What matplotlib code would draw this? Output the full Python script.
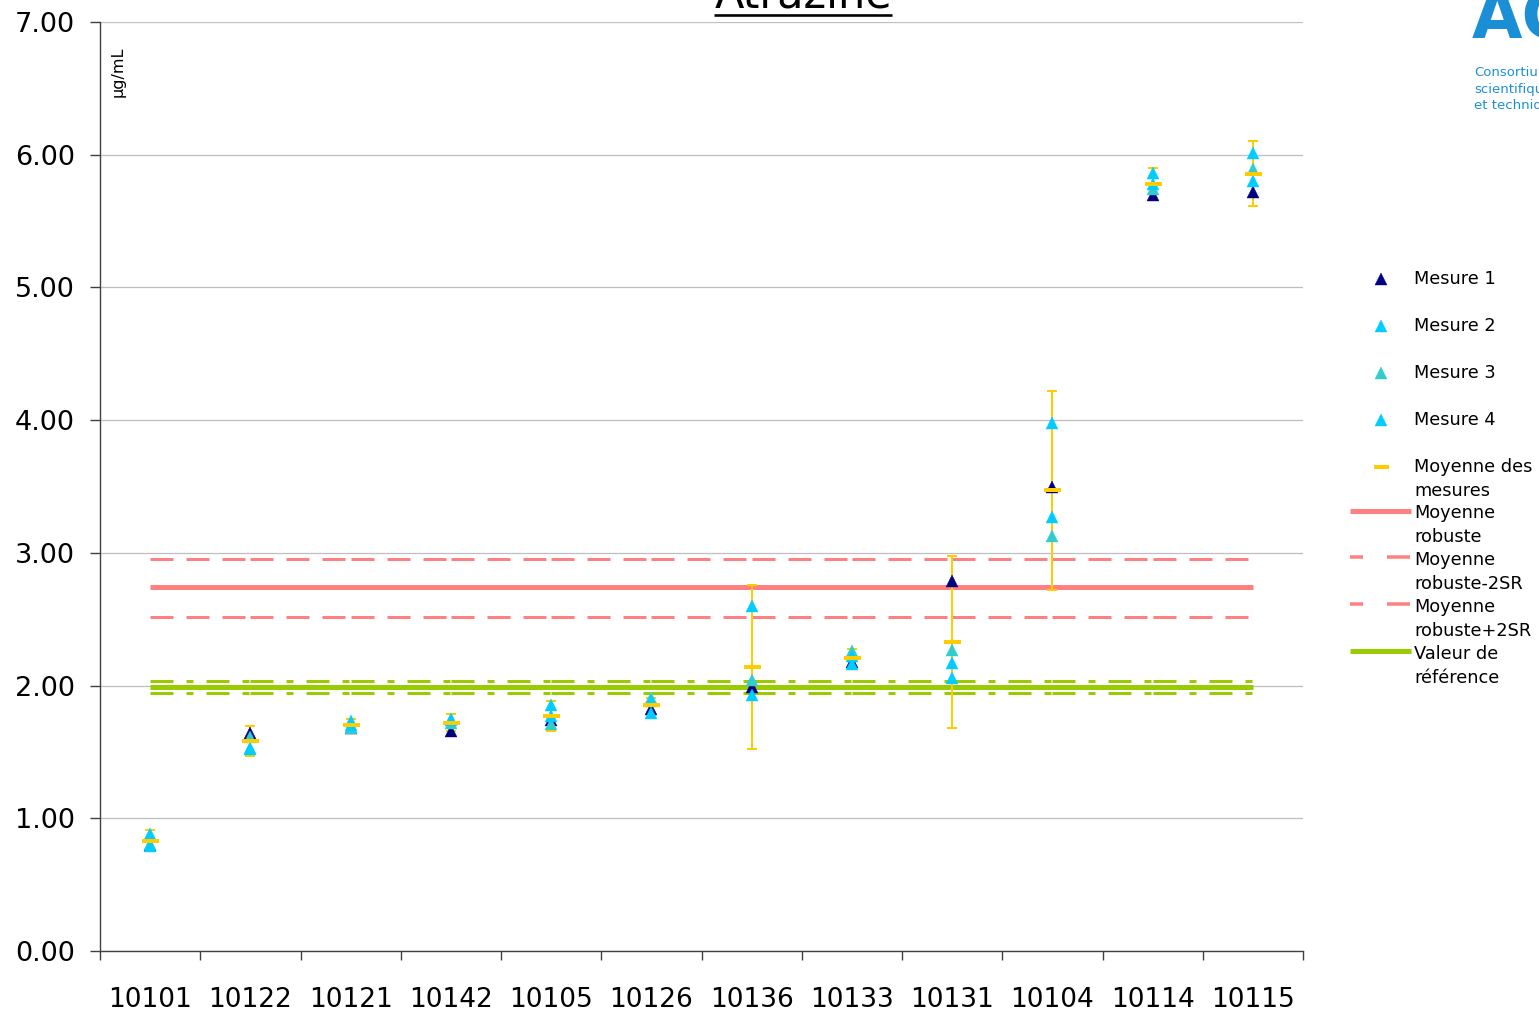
import numpy as np
import matplotlib
matplotlib.use("Agg")
import matplotlib.pyplot as plt
from matplotlib.lines import Line2D

plt.rcParams['font.family'] = ['DejaVu Sans']
plt.rcParams['lines.scale_dashes'] = False

# ---------------- data ----------------
categories = ['10101', '10122', '10121', '10142', '10105', '10126',
              '10136', '10133', '10131', '10104', '10114', '10115']
mesure1 = [0.80, 1.64, 1.68, 1.66, 1.74, 1.82, 1.99, 2.18, 2.79, 3.50, 5.70, 5.72]
mesure2 = [0.88, 1.52, 1.73, 1.75, 1.85, 1.79, 2.60, 2.16, 2.17, 3.98, 5.86, 6.01]
mesure3 = [0.81, 1.61, 1.68, 1.72, 1.71, 1.91, 2.04, 2.26, 2.27, 3.13, 5.74, 5.89]
mesure4 = [0.79, 1.53, 1.70, 1.74, 1.77, 1.88, 1.93, 2.22, 2.06, 3.27, 5.78, 5.80]
moyenne = [0.83, 1.58, 1.70, 1.72, 1.77, 1.85, 2.14, 2.21, 2.33, 3.47, 5.78, 5.855]
erreur = [0.078, 0.112, 0.05, 0.063, 0.113, 0.06, 0.62, 0.066, 0.647, 0.748, 0.12, 0.245]

moyenne_robuste = 2.74
robuste_moins_2sr = 2.52
robuste_plus_2sr = 2.95
valeur_reference = 1.99
reference_moins_u = 1.945
reference_plus_u = 2.035

yticks = [0, 1, 2, 3, 4, 5, 6, 7]

legend_labels = ['Mesure 1', 'Mesure 2', 'Mesure 3', 'Mesure 4',
                 'Moyenne des\nmesures', 'Moyenne\nrobuste', 'Moyenne\nrobuste-2SR',
                 'Moyenne\nrobuste+2SR', 'Valeur de\nréférence']

# ---------------- style ----------------
C_M1 = '#000080'
C_M2 = '#00CCFF'
C_M3 = '#33CCCC'
C_M4 = '#00CCFF'
C_MEAN = '#FFCC00'
C_RED = '#FF8080'
C_GREEN = '#99CC00'
PX = 72 / 100.0  # points per pixel

W, H = 1539, 1016
fig = plt.figure(figsize=(W / 100, H / 100), dpi=100)
ax = fig.add_axes([100 / W, 65 / H, 1203 / W, 929 / H])

n = len(categories)
x = np.arange(n) + 0.5

ax.set_xlim(0, n)
ax.set_ylim(0, 7)

# horizontal reference lines, drawn category segment by category segment
def seg_line(val, color, lw, dashes=None):
    for i in range(n - 1):
        kw = dict(color=color, lw=lw, zorder=2, solid_capstyle='butt')
        if dashes is not None:
            kw['dashes'] = dashes
            kw['dash_capstyle'] = 'butt'
        ax.plot([x[i], x[i + 1]], [val, val], **kw)

red_dash = [23 * PX, 13 * PX]
green_dd = [23 * PX, 13 * PX, 7 * PX, 13 * PX]
seg_line(robuste_moins_2sr, C_RED, 3 * PX, red_dash)
seg_line(robuste_plus_2sr, C_RED, 3 * PX, red_dash)
seg_line(reference_moins_u, C_GREEN, 3 * PX, green_dd)
seg_line(reference_plus_u, C_GREEN, 3 * PX, green_dd)
ax.plot(x, [moyenne_robuste] * n, color=C_RED, lw=5 * PX, zorder=2, solid_capstyle='butt')
ax.plot(x, [valeur_reference] * n, color=C_GREEN, lw=5 * PX, zorder=2, solid_capstyle='butt')

# error bars
ax.errorbar(x, moyenne, yerr=erreur, fmt='none', ecolor=C_MEAN, elinewidth=2 * PX,
            capsize=5 * PX, capthick=2 * PX, zorder=3)

ms = 8.8
for vals, col in [(mesure1, C_M1), (mesure2, C_M2), (mesure3, C_M3), (mesure4, C_M4)]:
    ax.plot(x, vals, ls='none', marker='^', ms=ms, color=col, mec=col, mew=0.3, zorder=4)

ax.plot(x, moyenne, ls='none', marker='_', ms=17 * PX, mew=4 * PX, color=C_MEAN, zorder=5)

# axes styling
for s in ['top', 'right']:
    ax.spines[s].set_visible(False)
for s in ['left', 'bottom']:
    ax.spines[s].set_color('#404040')
    ax.spines[s].set_linewidth(1.0)

ax.set_yticks(yticks)
ax.set_yticklabels([f'{v:.2f}' for v in yticks])
ax.yaxis.grid(True, color='#BFBFBF', lw=0.9)
ax.set_axisbelow(True)
ax.tick_params(axis='y', length=10 * PX, width=1.0, color='#404040', pad=15 * PX,
               labelsize=19.5, labelcolor='black')

ax.set_xticks(np.arange(n + 1))
ax.set_xticklabels([''] * (n + 1))
ax.set_xticks(x, minor=True)
ax.set_xticklabels(categories, minor=True)
ax.tick_params(axis='x', which='major', length=9 * PX, width=1.0, color='#404040')
ax.tick_params(axis='x', which='minor', length=0, pad=36 * PX, labelsize=19)

# unit label
fig.text(118 / W, 1 - 72 / H, 'µg/mL', rotation=90, ha='center', va='center', fontsize=11.5)

# title with underline
title = fig.text(803 / W, 1 - 7.5 / H, 'Atrazine', ha='center', va='baseline', fontsize=31)
fig.canvas.draw()
bb = title.get_window_extent()
fig.add_artist(Line2D([bb.x0 / W, bb.x1 / W], [1 - 14.5 / H, 1 - 14.5 / H],
                      transform=fig.transFigure, color='black', lw=2.6 * PX,
                      solid_capstyle='butt'))

# logo (cut at the figure edge)
LOGO = '#1B8FD6'
fig.text(1472 / W, 1 - 38 / H, 'AC', ha='left', va='baseline', fontsize=47,
         fontweight='bold', color=LOGO)
for i, t in enumerate(['Consortium', 'scientifique', 'et technique']):
    fig.text(1474 / W, 1 - (73 + 16 * i) / H, t, ha='left', va='center',
             fontsize=9.5, color=LOGO)

# manual legend
def fy(py):
    return 1 - py / H

row0, dy = 279, 46.9
mx = 1381 / W
lx0, lx1 = 1350 / W, 1411 / W
handles = [
    dict(kind='m', color=C_M1), dict(kind='m', color=C_M2), dict(kind='m', color=C_M3),
    dict(kind='m', color=C_M4), dict(kind='mean'),
    dict(kind='l', color=C_RED, lw=5 * PX, dashes=None),
    dict(kind='l', color=C_RED, lw=3.5 * PX, dashes=(10 * PX, (23 * PX, 24 * PX))),
    dict(kind='l', color=C_RED, lw=3.5 * PX, dashes=(10 * PX, (23 * PX, 24 * PX))),
    dict(kind='l', color=C_GREEN, lw=5 * PX, dashes=None),
]
for i, (h, lab) in enumerate(zip(handles, legend_labels)):
    py = row0 + dy * i
    if h['kind'] == 'm':
        fig.add_artist(Line2D([mx], [fy(py)], transform=fig.transFigure, ls='none',
                              marker='^', ms=ms, color=h['color'], mec=h['color'], mew=0.3))
    elif h['kind'] == 'mean':
        fig.add_artist(Line2D([mx], [fy(py)], transform=fig.transFigure, ls='none',
                              marker='_', ms=15 * PX, mew=4 * PX, color=C_MEAN))
    else:
        ly = fy(py - 3)
        ls = '-' if h['dashes'] is None else h['dashes']
        ln = Line2D([lx0, lx1], [ly, ly], transform=fig.transFigure, color=h['color'],
                    lw=h['lw'], linestyle=ls, solid_capstyle='butt', dash_capstyle='butt')
        fig.add_artist(ln)
    for j, part in enumerate(lab.split('\n')):
        fig.text(1414 / W, fy(py + 24 * j), part, ha='left', va='center', fontsize=12.8)

fig.savefig('out.png', dpi=100)
